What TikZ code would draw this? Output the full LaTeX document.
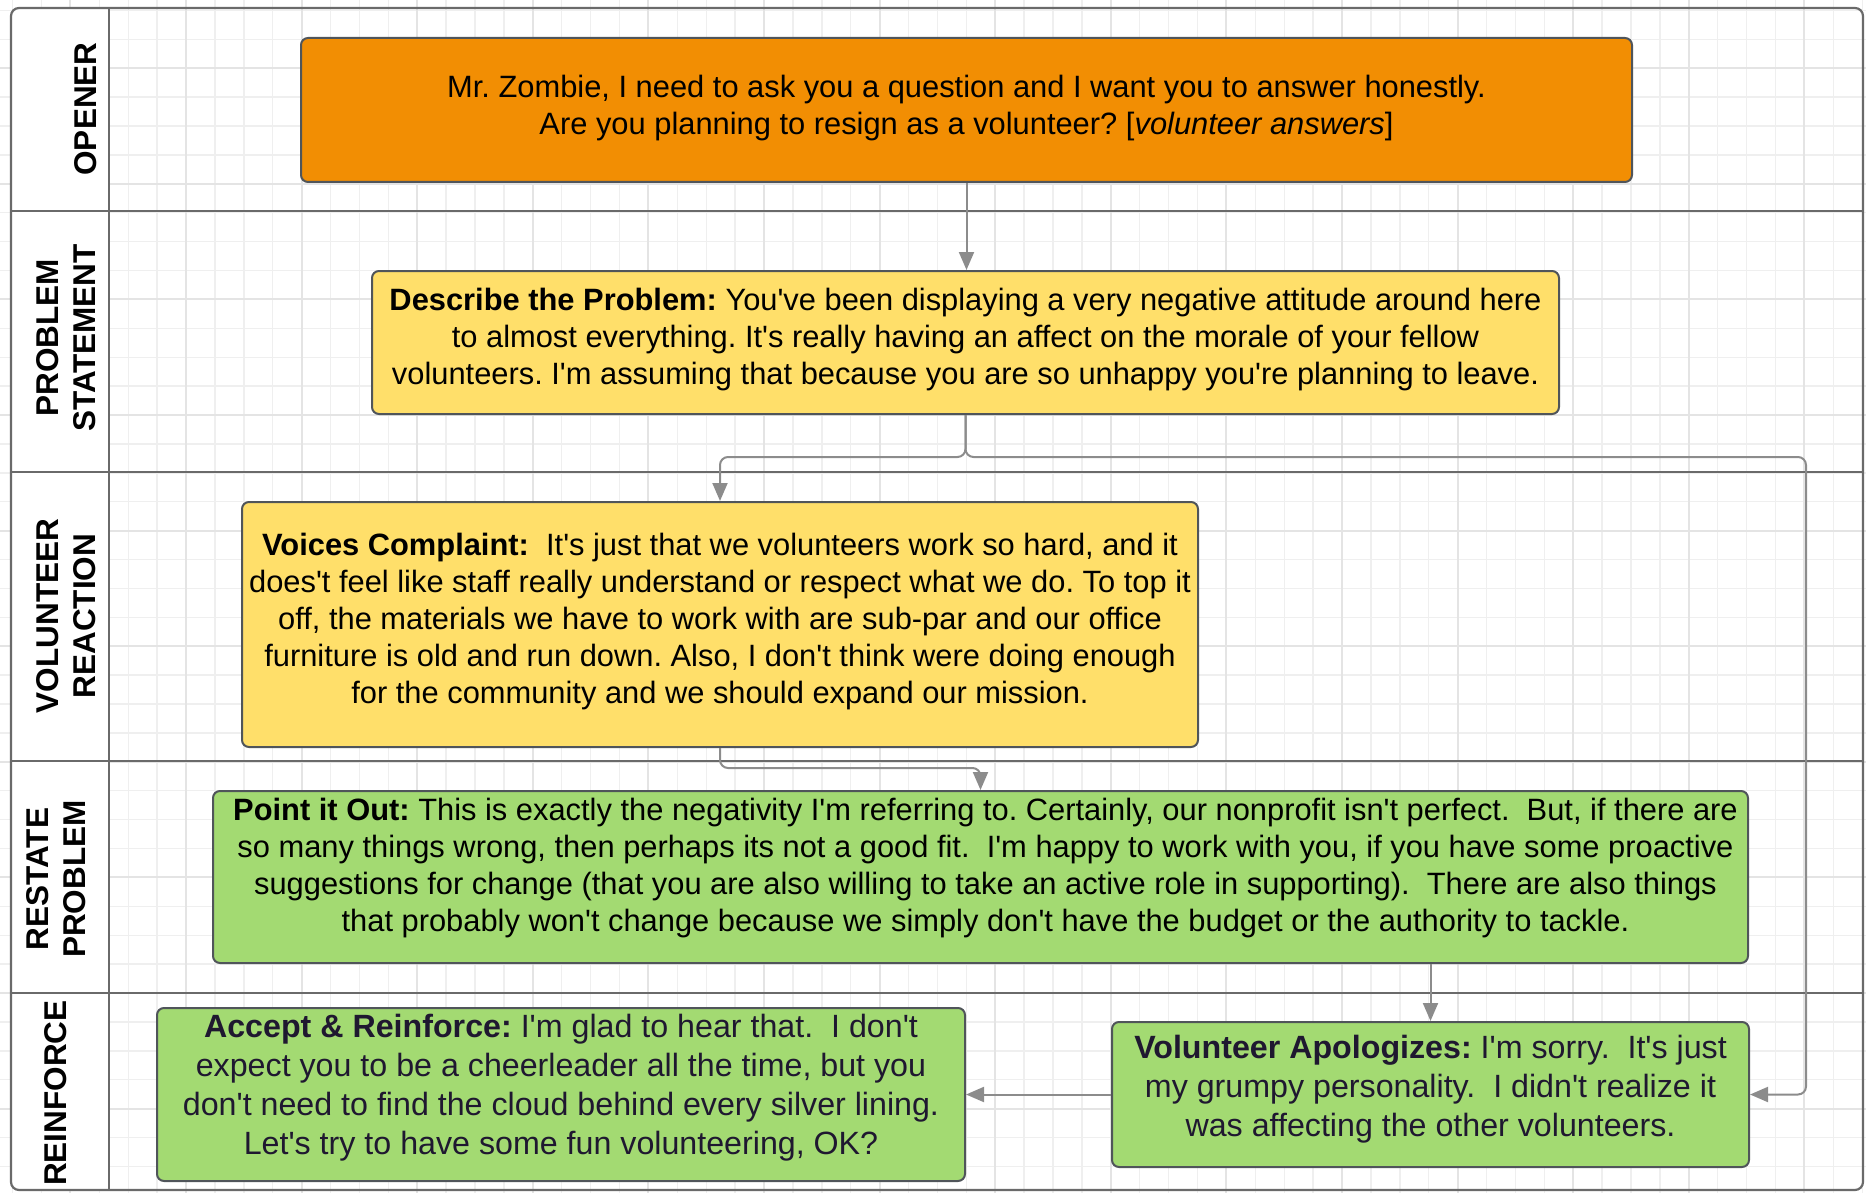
\documentclass[tikz,border=0pt]{standalone}
\usepackage{fontspec}
\setmainfont{Liberation Sans}[Ligatures=TeXOff]
\usetikzlibrary{arrows.meta}
\definecolor{orangefill}{HTML}{F28E03}
\definecolor{yellowfill}{HTML}{FFDF6A}
\definecolor{greenfill}{HTML}{A3DA72}
\definecolor{boxline}{HTML}{50555A}
\definecolor{laneline}{HTML}{6A6A6A}
\definecolor{gridminor}{HTML}{EFEFEF}
\definecolor{gridmajor}{HTML}{E4E4E4}
\definecolor{conncol}{HTML}{8C8C8C}
\definecolor{darktext}{HTML}{1F1830}
\tikzset{
  boxshape/.style={draw=boxline, line width=2, rounded corners=7, inner sep=0},
  txt/.style={font=\fontsize{30.85}{37}\selectfont, align=center, inner sep=0},
  txtb/.style={font=\fontsize{32.2}{39}\selectfont, align=center, inner sep=0, text=darktext},
  lanelabel/.style={font=\fontsize{31.5}{37}\selectfont\bfseries, align=center, rotate=90, inner sep=0},
  connector/.style={draw=conncol, line width=2, rounded corners=8, -{Triangle[length=18pt,width=15pt]}, conncol},
}
\frenchspacing
\begin{document}
\frenchspacing
\begin{tikzpicture}[x=1pt,y=-1pt]
\useasboundingbox (0,0) rectangle (1866,1193);
% grid
\foreach \i in {0,...,66} \draw[gridminor, line width=1.4] ({-16.3+\i*28.9},0) -- ({-16.3+\i*28.9},1193);
\foreach \j in {0,...,42} \draw[gridminor, line width=1.4] (0,{-18.5+\j*28.9}) -- (1866,{-18.5+\j*28.9});
\foreach \i in {-1,...,15} \draw[gridmajor, line width=2] ({186+\i*115.6},0) -- ({186+\i*115.6},1193);
\foreach \j in {-3,...,6} \draw[gridmajor, line width=2] (0,{415+\j*115.6}) -- (1866,{415+\j*115.6});
% label column
\fill[white] (109,8) [rounded corners=8] -- (11,8) -- (11,1190) [sharp corners] -- (109,1190) -- cycle;
% frame and lanes
\draw[laneline, line width=2.2, rounded corners=8] (11,8) rectangle (1863,1190);
\foreach \y in {211,472,761,993} \draw[laneline, line width=2.2] (11,\y) -- (1863,\y);
\draw[laneline, line width=2.2] (109,8) -- (109,1190);
% lane labels
\node[lanelabel] (lOpener) at (86,109) {OPENER};
\node[lanelabel] (lProblem) at (66,338) {PROBLEM\\STATEMENT};
\node[lanelabel] (lVolunteer) at (66,616) {VOLUNTEER\\REACTION};
\node[lanelabel] (lRestate) at (56,879) {RESTATE\\PROBLEM};
\node[lanelabel] (lReinforce) at (56,1093) {REINFORCE};
% boxes
\node[boxshape, fill=orangefill, minimum width=1331, minimum height=144] (opener) at (966.5,110) {};
\node[boxshape, fill=yellowfill, minimum width=1187, minimum height=143] (problem) at (965.5,342.5) {};
\node[boxshape, fill=yellowfill, minimum width=956, minimum height=245] (voices) at (720,624.5) {};
\node[boxshape, fill=greenfill, minimum width=1535, minimum height=172] (point) at (980.5,877) {};
\node[boxshape, fill=greenfill, minimum width=808, minimum height=173] (accept) at (561,1094.5) {};
\node[boxshape, fill=greenfill, minimum width=637, minimum height=145] (apolog) at (1430.5,1094.5) {};
% texts
\node[txt, yshift=1.5] (tOpener) at (opener.center) {Mr. Zombie, I need to ask you a question and I want you to answer honestly.\\Are you planning to resign as a volunteer? [\textit{volunteer answers}]};
\node[txt, yshift=2.5] (tProblem) at (problem.center) {\textbf{Describe the Problem:} You've been displaying a very negative attitude around here\\to almost everything. It's really having an affect on the morale of your fellow\\volunteers. I'm assuming that because you are so unhappy you're planning to leave.};
\node[txt, yshift=3] (tVoices) at (voices.center) {\textbf{Voices Complaint:}\ \ It's just that we volunteers work so hard, and it\\does't feel like staff really understand or respect what we do. To top it\\off, the materials we have to work with are sub-par and our office\\furniture is old and run down. Also, I don't think were doing enough\\for the community and we should expand our mission.};
\node[txt, yshift=9, xshift=5] (tPoint) at (point.center) {\textbf{Point it Out:} This is exactly the negativity I'm referring to. Certainly, our nonprofit isn't perfect.\ \ But, if there are\\so many things wrong, then perhaps its not a good fit.\ \ I'm happy to work with you, if you have some proactive\\suggestions for change (that you are also willing to take an active role in supporting).\ \ There are also things\\that probably won't change because we simply don't have the budget or the authority to tackle.};
\node[txtb, yshift=6.5] (tAccept) at (accept.center) {\textbf{Accept \& Reinforce:} I'm glad to hear that.\ \ I don't\\expect you to be a cheerleader all the time, but you\\don't need to find the cloud behind every silver lining.\\Let's try to have some fun volunteering, OK?};
\node[txtb, yshift=5] (tApolog) at (apolog.center) {\textbf{Volunteer Apologizes:} I'm sorry.\ \ It's just\\my grumpy personality.\ \ I didn't realize it\\was affecting the other volunteers.};
% connectors
\coordinate (split) at (965.5,457);
\coordinate (rside) at (1806,800);
\coordinate (vp) at (720,768);
\draw[connector] (opener.south) -- (opener.south |- problem.north);
\draw[connector] (problem.south) -- (split) -| (voices.north);
\draw[connector] (problem.south) -- (split) -- (split -| rside) -- (rside |- apolog.east) -- (apolog.east);
\draw[connector] (voices.south) -- (vp) -| (point.north);
\draw[connector] (point.south -| apolog.north) -- (apolog.north);
\draw[connector] (apolog.west) -- (accept.east);
\end{tikzpicture}
\end{document}
